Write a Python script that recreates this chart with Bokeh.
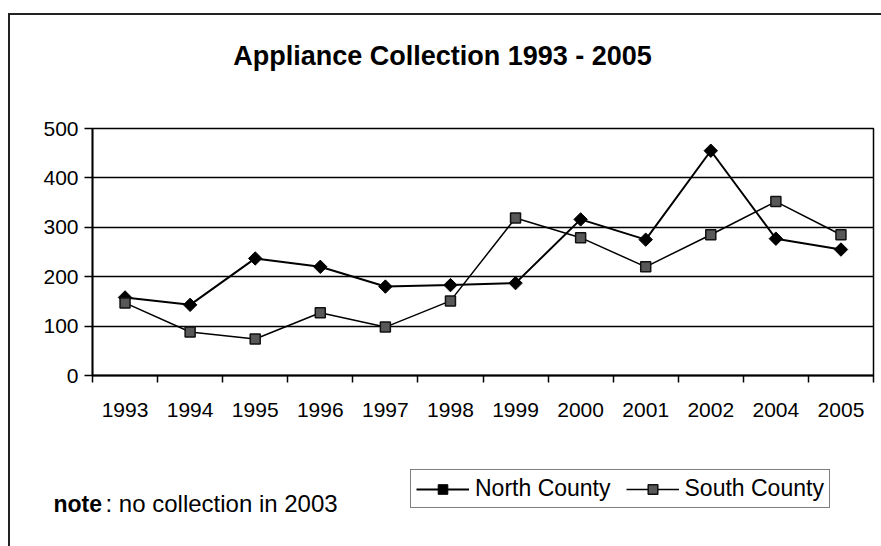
import numpy as np
from bokeh.plotting import figure
from bokeh.layouts import column
from bokeh.models import FixedTicker, Label, Legend, LegendItem, Range1d
from bokeh.embed import file_html
from bokeh.resources import INLINE

# Appliance collection counts per year (no collection took place in 2003)
years = ["1993", "1994", "1995", "1996", "1997", "1998", "1999",
         "2000", "2001", "2002", "2004", "2005"]
north_county = [158, 143, 237, 220, 180, 183, 187, 316, 275, 455, 277, 255]
south_county = [147, 88, 74, 127, 98, 151, 319, 279, 220, 285, 352, 285]
y_ticks = [0, 100, 200, 300, 400, 500]

FONT = "Liberation Sans"
W = 871  # width of every panel in the stack

NORTH_LINE = dict(line_color="black", line_width=2)
NORTH_MARK = dict(marker="square", angle=np.pi / 4, size=9.5,
                  fill_color="black", line_color="black")
SOUTH_LINE = dict(line_color="black", line_width=1.5)
SOUTH_MARK = dict(marker="square", size=10, fill_color="#585858",
                  line_color="#111111", line_width=1.5)


def text_panel(height):
    """A bare panel whose data units are pixels, used for free-standing text."""
    f = figure(width=W, height=height, output_backend="svg", toolbar_location=None,
               x_range=Range1d(0, W), y_range=Range1d(0, height),
               x_axis_type=None, y_axis_type=None,
               min_border=0, min_border_left=0, min_border_right=0,
               min_border_top=0, min_border_bottom=0)
    f.frame_align = False
    f.outline_line_color = None
    f.grid.visible = False
    f.background_fill_color = "white"
    f.border_fill_color = "white"
    return f


# --- title strip -----------------------------------------------------------
HEAD_H = 97
head = text_panel(HEAD_H)
head.add_layout(Label(x=432, y=HEAD_H - 40, text="Appliance Collection 1993 - 2005",
                      text_font=FONT, text_font_size="27px", text_font_style="bold",
                      text_align="center", text_baseline="alphabetic",
                      text_color="black"))

# --- main chart ------------------------------------------------------------
n = len(years)
centers = np.arange(n) + 0.5      # one unit-wide slot per year
bounds = list(range(n + 1))

p = figure(width=W, height=318, output_backend="svg", toolbar_location=None,
           x_range=Range1d(0, n), y_range=Range1d(0, 500),
           min_border_left=82, min_border_right=8,
           min_border_top=16, min_border_bottom=55)
p.frame_align = False
p.background_fill_color = "white"
p.border_fill_color = "white"
p.outline_line_color = "black"
p.outline_line_width = 1.5

p.xaxis.ticker = FixedTicker(ticks=list(centers), minor_ticks=bounds)
p.xaxis.major_label_overrides = {float(c): y for c, y in zip(centers, years)}
p.xaxis.major_tick_out = 0
p.xaxis.major_tick_in = 0
p.xaxis.minor_tick_out = 7
p.xaxis.minor_tick_in = 0
p.xaxis.minor_tick_line_color = "black"
p.xaxis.minor_tick_line_width = 1.5
p.xaxis.major_label_standoff = 20
p.xgrid.visible = False

p.yaxis.ticker = FixedTicker(ticks=y_ticks)
p.yaxis.major_tick_out = 8
p.yaxis.major_tick_in = 0
p.yaxis.minor_tick_line_color = None
p.yaxis.major_tick_line_width = 1.5
p.yaxis.major_label_standoff = 6
p.ygrid.grid_line_color = "black"
p.ygrid.grid_line_width = 1.5
p.ygrid.grid_line_alpha = 1.0

for ax in (p.xaxis, p.yaxis):
    ax.axis_line_color = "black"
    ax.axis_line_width = 1.8
    ax.major_tick_line_color = "black"
    ax.major_label_text_font = FONT
    ax.major_label_text_font_size = "21px"
    ax.major_label_text_color = "black"

p.line(centers, north_county, **NORTH_LINE)
p.scatter(centers, north_county, **NORTH_MARK)
p.line(centers, south_county, **SOUTH_LINE)
p.scatter(centers, south_county, **SOUTH_MARK)

# --- footnote and legend strip --------------------------------------------
FOOT_H = 116
foot = text_panel(FOOT_H)
foot.add_layout(Label(x=43, y=43, text="note", text_font=FONT,
                      text_font_size="23px", text_font_style="bold",
                      text_baseline="alphabetic", text_color="black"))
foot.add_layout(Label(x=95, y=43, text=": no collection in 2003", text_font=FONT,
                      text_font_size="24px", text_baseline="alphabetic",
                      text_color="black"))

# legend swatches: renderers carrying a single blank (NaN) point
nl = foot.line([np.nan], [np.nan], **NORTH_LINE)
nm = foot.scatter([np.nan], [np.nan], **NORTH_MARK)
sl = foot.line([np.nan], [np.nan], **SOUTH_LINE)
sm = foot.scatter([np.nan], [np.nan], **SOUTH_MARK)
legend = Legend(items=[LegendItem(label="North County", renderers=[nl, nm]),
                       LegendItem(label="South County", renderers=[sl, sm])],
                orientation="horizontal", location=(400, 38),
                border_line_color="black", border_line_width=1.5,
                background_fill_color="white", background_fill_alpha=1.0,
                label_text_font=FONT, label_text_font_size="23px",
                label_text_color="black", glyph_width=53, glyph_height=24,
                label_standoff=6, spacing=15, padding=5, margin=0)
foot.add_layout(legend, "center")

page = column(head, p, foot, spacing=0)
page.styles = {"margin-left": "8px", "margin-top": "13px",
               "border-left": "2px solid #222", "border-top": "2px solid #222"}

open("out.html", "w").write(file_html(page, INLINE))
